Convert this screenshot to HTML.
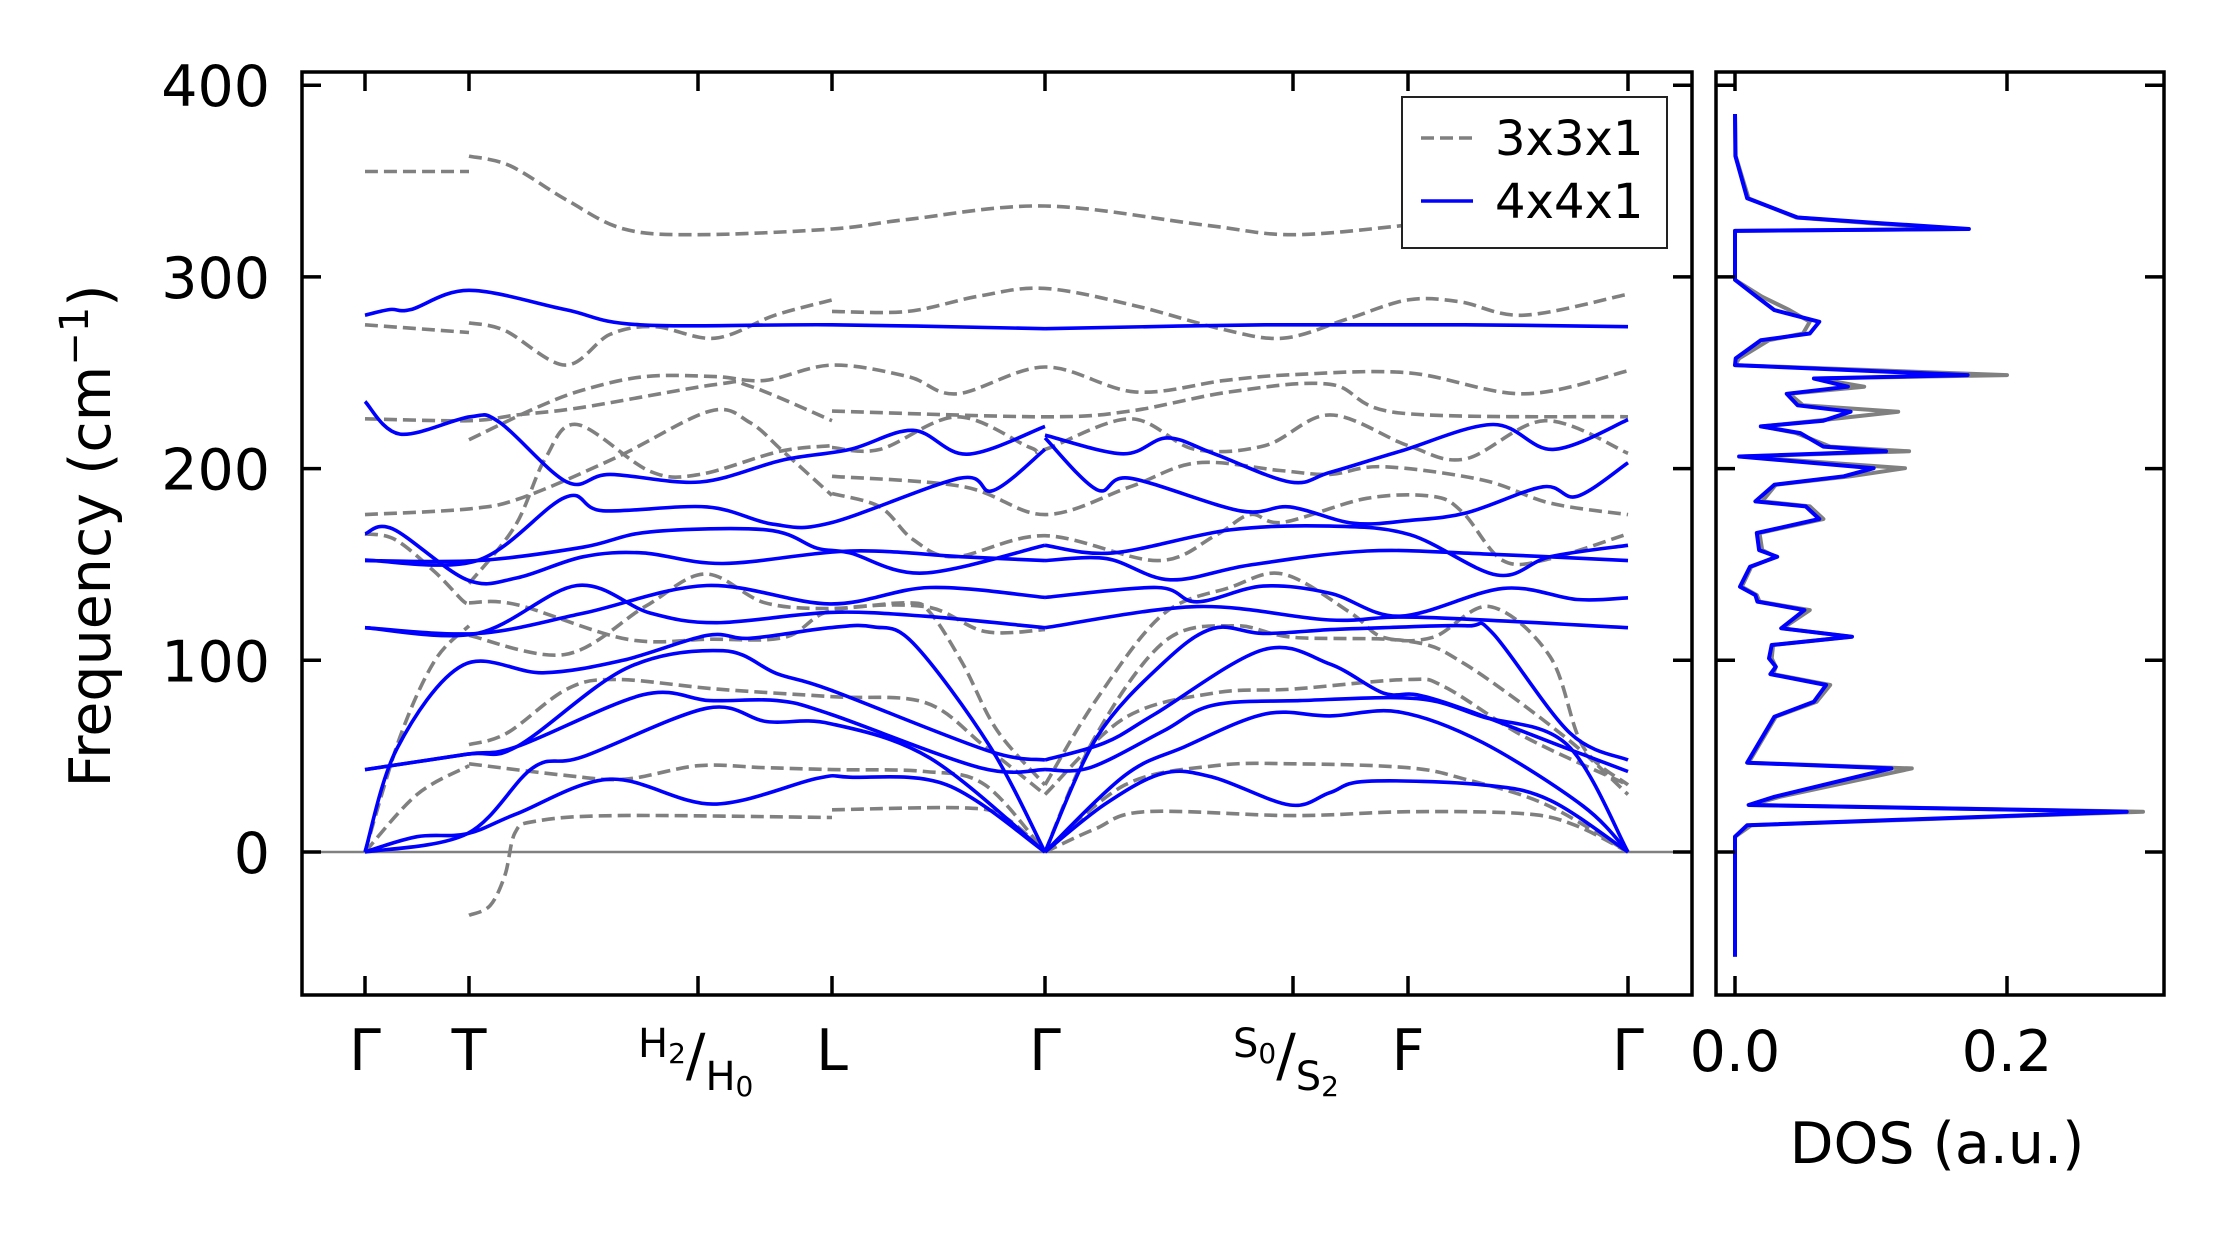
<!DOCTYPE html>
<html><head><meta charset="utf-8"><style>
html,body{margin:0;padding:0;background:#fff;}
svg{display:block;font-family:"DejaVu Sans","Liberation Sans",sans-serif;}
</style></head><body>
<svg id="chart" width="2222" height="1233" viewBox="0 0 2222 1233" xmlns="http://www.w3.org/2000/svg">
<rect width="2222" height="1233" fill="#fff"/>
<g id="bands"></g>
<g id="dos"></g>
<g id="axes"></g>
<g>
<rect x="1402" y="97" width="265" height="151" fill="#fff" stroke="#222" stroke-width="2"/>
<line x1="1421" y1="138" x2="1472" y2="138" stroke="#808080" stroke-width="3.6" stroke-dasharray="13 6"/>
<text x="1495" y="155" font-size="48">3x3x1</text>
<line x1="1421" y1="201" x2="1473" y2="201" stroke="#0000ff" stroke-width="3.6"/>
<text x="1495" y="218" font-size="48">4x4x1</text>
</g>
<text transform="translate(110,536) rotate(-90)" text-anchor="middle" font-size="57">Frequency (cm<tspan dy="-22" font-size="40">−1</tspan><tspan dy="22">)</tspan></text>
<text x="1937" y="1163" text-anchor="middle" font-size="57">DOS (a.u.)</text>
</svg>
<script>
// ---- data ----
const kTicks = [0,104,333,467,680,928,1043,1263];
const kLabels = ["Γ","T","H","L","Γ","S","F","Γ"];
const yTicks = [0,100,200,300,400];
const dosTicks = [0.0,0.2];
const dosTickLabels = ["0.0","0.2"];

const blue1=[[0,280],[25,283],[46,283],[104,293],[200,283],[275,275],[467,275],[680,273]];
const blue2=[[0,235],[35,218],[105,227],[135,224],[202,193],[245,197],[335,193],[418,204.5],[485,210],[548,220],[602,207.5],[680,222]];
const blue3=[[0,152.3],[112,152],[200,185],[238,178],[342,180],[408,171],[465,171.6],[595,195],[628,188.5],[680,210]];
const blue4=[[0,166],[28,168.5],[102,142],[152,143],[218,154],[278,156],[358,150.5],[485,157],[598,154],[680,152]];
const blue5=[[0,152],[112,152],[218,159],[285,167],[402,168],[452,158.5],[485,156],[558,145.5],[680,160]];
const blue6=[[0,117],[112,114],[212,139],[285,124.7],[352,119.6],[465,125],[560,123],[680,117]];
const blue7=[[0,117],[112,114],[218,124.5],[342,139],[465,129.4],[565,138],[680,132.8]];
const blue8=[[0,0],[32,54],[98,97.5],[178,93.5],[258,100],[342,113],[385,111.5],[465,117],[508,117.5],[548,109],[625,55],[680,0]];
const blue9=[[0,43],[102,51],[152,55],[262,96],[358,105],[412,93],[465,84.6],[622,53],[680,48]];
const blue10=[[0,43],[102,51],[152,55],[278,82],[345,79],[412,79],[465,72],[615,44],[680,43]];
const blue11=[[0,0],[102,9.5],[168,44],[218,49.7],[342,75],[402,68],[465,67],[565,49],[680,0]];
const blue12=[[0,0],[52,8],[102,9.5],[152,20],[245,38],[348,25],[452,38.4],[485,39],[582,35],[680,0]];
const blue13=[[680,273],[900,275],[1100,275],[1263,274]];
const blue14=[[680,217.5],[758,207.7],[802,216],[848,208],[925,193],[965,198],[1035,209],[1128,223],[1188,210],[1263,225.5]];
const blue15=[[680,216],[732,189],[765,195],[875,178],[925,180],[988,171.5],[1045,173],[1102,177],[1178,190.5],[1212,185.5],[1263,203]];
const blue16=[[680,160],[748,156],[865,168],[965,170],[1045,165.5],[1132,144.5],[1185,154],[1263,160]];
const blue17=[[680,152],[742,153],[805,142],[885,149.7],[1002,157],[1118,155.5],[1263,152]];
const blue18=[[680,132.8],[792,138],[832,130.5],[898,138.7],[965,135],[1035,123],[1138,137.5],[1212,131.7],[1263,132.6]];
const blue19=[[680,117],[832,128],[965,121],[1052,122.5],[1263,117]];
const blue20=[[680,0],[732,60],[798,98.5],[848,116.6],[898,114],[965,116],[1018,117],[1102,118],[1128,114],[1205,62],[1263,48]];
const blue21=[[680,48],[740,57],[790,72],[898,105.5],[965,98],[1018,83],[1052,82],[1102,74],[1202,54],[1263,42]];
const blue22=[[680,43],[725,44],[798,63],[848,76.6],[935,79],[1052,80],[1118,70.5],[1202,56],[1263,0]];
const blue23=[[680,0],[760,40],[820,55],[900,72],[965,71],[1035,73],[1118,57],[1218,24],[1263,0]];
const blue24=[[680,0],[740,25],[798,41],[848,39],[925,24.5],[965,31],[1002,36.9],[1118,35],[1185,27],[1263,0]];
const blueBands=[blue1,blue2,blue3,blue4,blue5,blue6,blue7,blue8,blue9,blue10,blue11,blue12,blue13,blue14,blue15,blue16,blue17,blue18,blue19,blue20,blue21,blue22,blue23,blue24];

const gray1=[[0,355],[104,355]];
const gray2=[[104,363],[145,358],[202,340],[259,325],[333,322],[467,325],[543,330],[680,337],[840,327],[928,322],[1043,327]];
const gray3=[[0,275],[104,271]];
const gray4=[[104,276],[140,272],[200,254],[245,270],[290,274],[350,268],[410,280],[467,288]];
const gray5=[[467,282],[543,282],[614,290],[680,294],[770,285],[855,273],[918,268],[982,278],[1043,288],[1095,287],[1159,280],[1263,291]];
const gray6=[[0,226],[104,225],[152,228],[218,232],[352,244],[385,243],[467,225]];
const gray7=[[104,215],[168,231],[218,241],[280,248],[350,248],[400,246],[467,254],[543,248],[592,239],[680,253],[770,240],[860,246],[928,249],[1043,250],[1159,239],[1263,251]];
const gray8=[[467,230],[678,227],[765,230],[865,240],[965,244],[1035,229],[1263,227]];
const gray9=[[0,176],[104,179],[158,185],[252,206],[345,230],[385,224],[418,209],[467,186]];
const gray10=[[467,187],[515,180],[548,163],[590,154],[680,165],[792,152],[850,165],[885,176],[918,172],[1002,184.5],[1068,185.5],[1098,177],[1138,152],[1185,153],[1263,166]];
const gray11=[[467,196],[598,190.6],[680,176],[765,190.5],[832,203],[915,199],[965,197],[1018,201],[1118,194],[1185,182],[1263,176]];
const gray12=[[104,140],[150,170],[180,205],[212,223],[285,198.6],[335,197],[415,209],[467,212]];
const gray13=[[467,211],[515,210],[592,227],[665,211],[680,210],[765,226],[830,210],[900,212],[965,228],[1043,212],[1100,205],[1180,225],[1263,208]];
const gray14=[[0,166],[30,163],[70,146],[98,131],[104,130]];
const gray15=[[104,130],[152,129],[262,111],[345,111],[420,112],[467,126],[560,128],[620,115],[680,116]];
const gray16=[[104,113],[200,103],[280,128],[340,145],[400,130],[467,127],[542,130],[565,125],[598,98],[632,63.5],[680,35]];
const gray17=[[680,35],[732,80],[798,124],[865,138],[918,145],[985,125],[1018,112],[1068,112],[1125,128],[1185,102],[1218,55],[1263,35]];
const gray18=[[0,0],[35,60],[70,100],[104,118]];
const gray19=[[0,0],[52,30],[104,45]];
const gray20=[[104,56],[142,62],[202,85],[252,90],[352,85],[468,81],[560,78],[620,55],[680,30]];
const gray21=[[104,46],[200,40],[260,38],[333,45],[400,44],[467,43],[560,42],[620,35],[680,0]];
const gray22=[[680,0],[760,35],[850,45],[928,46],[1043,44],[1100,38],[1180,25],[1263,0]];
const gray23=[[680,30],[760,70],[850,83],[928,85],[1043,90],[1080,86],[1160,60],[1263,35]];
const gray24=[[680,0],[730,60],[800,110],[870,118],[928,112],[1043,110],[1100,98],[1200,60],[1263,30]];
const gray25=[[104,-33],[125,-28],[140,-12],[150,10],[170,16],[250,19],[467,18]];
const gray26=[[467,22],[600,23],[640,18],[680,0]];
const gray27=[[680,0],[730,12],[780,21],[928,19],[1043,21],[1159,20],[1210,14],[1263,0]];
const grayBands=[gray1,gray2,gray3,gray4,gray5,gray6,gray7,gray8,gray9,gray10,gray11,gray12,gray13,gray14,gray15,gray16,gray17,gray18,gray19,gray20,gray21,gray22,gray23,gray24,gray25,gray26,gray27];

const dosFreq=[385,363,341,331,328,325,324,298.5,289.6,282.7,276.6,270.5,267,257.5,254,248.8,247,242.7,239,233,229.7,225,222,218.5,211.5,209,206.3,200.2,196,191.6,182.9,180.3,173.7,166.4,157.5,154,148.8,138.4,134,130.6,126.2,116.7,112.3,108,101,96.6,92.8,87.1,78.4,70.6,46.6,43.6,28.8,24.5,21,14,8,-54.6];
const dosBlue=[0,0.0003,0.009,0.046,0.107,0.172,0,0,0.016,0.029,0.062,0.055,0.019,0.0005,0,0.171,0.058,0.083,0.038,0.046,0.085,0.065,0.019,0.048,0.065,0.111,0.003,0.102,0.08,0.029,0.015,0.052,0.062,0.016,0.0177,0.031,0.011,0.0037,0.015,0.0165,0.051,0.034,0.086,0.027,0.025,0.03,0.026,0.067,0.058,0.029,0.009,0.115,0.029,0.01,0.288,0.009,0,0];
const dosGray=[0,0.0005,0.01,0.045,0.1,0.165,0,0,0.02,0.04,0.055,0.05,0.025,0.003,0,0.2,0.06,0.095,0.04,0.05,0.12,0.06,0.02,0.045,0.07,0.128,0.005,0.125,0.085,0.03,0.02,0.055,0.065,0.018,0.02,0.03,0.012,0.005,0.016,0.018,0.055,0.035,0.085,0.028,0.027,0.03,0.028,0.07,0.06,0.03,0.01,0.13,0.033,0.012,0.3,0.012,0,0];

// ---- scales ----
const PX0=302, PX1=1692, PY0=72, PY1=995, DX0=1716, DX1=2164;
function xk(k){return 365 + k*(1628-365)/1263;}
function yf(f){return 852 - f*1.917;}
function xd(v){return 1735 + v*1360;}
const NS="http://www.w3.org/2000/svg";
function mk(tag,attrs,parent){const e=document.createElementNS(NS,tag);for(const a in attrs)e.setAttribute(a,attrs[a]);parent.appendChild(e);return e;}
function smooth(pts){
  const p=pts.map(q=>[xk(q[0]),yf(q[1])]);
  let d="M"+p[0][0].toFixed(1)+","+p[0][1].toFixed(1);
  for(let i=0;i<p.length-1;i++){
    const p0=p[Math.max(0,i-1)],p1=p[i],p2=p[i+1],p3=p[Math.min(p.length-1,i+2)];
    const c1=[p1[0]+(p2[0]-p0[0])/6,p1[1]+(p2[1]-p0[1])/6];
    const c2=[p2[0]-(p3[0]-p1[0])/6,p2[1]-(p3[1]-p1[1])/6];
    d+=" C"+c1[0].toFixed(1)+","+c1[1].toFixed(1)+" "+c2[0].toFixed(1)+","+c2[1].toFixed(1)+" "+p2[0].toFixed(1)+","+p2[1].toFixed(1);
  }
  return d;
}
const bands=document.getElementById('bands');
const clip=mk('clipPath',{id:'pc'},bands);
mk('rect',{x:PX0,y:PY0,width:PX1-PX0,height:PY1-PY0},clip);
const zl=mk('line',{x1:PX0,x2:PX1,y1:yf(0),y2:yf(0),stroke:'#808080','stroke-width':2.5},bands);


grayBands.forEach((b,i)=>{
  const e=mk('path',{d:smooth(b),fill:'none',stroke:'#808080','stroke-width':3.6,'stroke-dasharray':'13 6','clip-path':'url(#pc)'},bands);
  
  
});
blueBands.forEach((b,i)=>{
  const e=mk('path',{d:smooth(b),fill:'none',stroke:'#0000ff','stroke-width':3.6,'clip-path':'url(#pc)'},bands);
  
  
});
const dos=document.getElementById('dos');
function dline(vals,color,name){
  const pts=dosFreq.map((f,i)=>xd(vals[i]).toFixed(1)+","+yf(f).toFixed(1)).join(" ");
  const e=mk('polyline',{points:pts,fill:'none',stroke:color,'stroke-width':4,'stroke-linejoin':'round'},dos);
  
  
}
dline(dosGray,'#808080','dos-3x3x1');
dline(dosBlue,'#0000ff','dos-4x4x1');

// ---- axes ----
const ax=document.getElementById('axes');
const sp1=mk('rect',{x:PX0,y:PY0,width:PX1-PX0,height:PY1-PY0,fill:'none',stroke:'#000','stroke-width':3.5},ax);


const sp2=mk('rect',{x:DX0,y:PY0,width:DX1-DX0,height:PY1-PY0,fill:'none',stroke:'#000','stroke-width':3.5},ax);


const TL=19;
yTicks.forEach(v=>{
  const y=yf(v);
  [[PX0,PX0+TL],[PX1,PX1-TL],[DX0,DX0+TL],[DX1,DX1-TL]].forEach(s=>{
    const t=mk('line',{x1:s[0],x2:s[1],y1:y,y2:y,stroke:'#000','stroke-width':3.5},ax);
    
    
  });
  const tx=mk('text',{x:270,y:y+21,'text-anchor':'end','font-size':57},ax);
  tx.textContent=String(v);
  
  
});
kTicks.forEach((k,i)=>{
  const x=xk(k);
  [[PY0,PY0+TL],[PY1,PY1-TL]].forEach(s=>{
    const t=mk('line',{x1:x,x2:x,y1:s[0],y2:s[1],stroke:'#000','stroke-width':3.5},ax);
    
    
  });
  const lab=kLabels[i];
  if(lab==='H'||lab==='S'){
    const g=mk('text',{x:x-60,y:1057,'font-size':40},ax);
    
    
    const a=lab==='H'?['2','0']:['0','2'];
    g.innerHTML=lab+'<tspan font-size="28" dy="6">'+a[0]+'</tspan><tspan font-size="58" dy="12">/</tspan><tspan font-size="40" dy="15">'+lab+'</tspan><tspan font-size="28" dy="6">'+a[1]+'</tspan>';
  } else {
    const t=mk('text',{x:x,y:1070,'text-anchor':'middle','font-size':57},ax);
    t.textContent=lab;
    
    
  }
});
dosTicks.forEach((v,i)=>{
  const x=xd(v);
  [[PY0,PY0+TL],[PY1,PY1-TL]].forEach(s=>{
    const t=mk('line',{x1:x,x2:x,y1:s[0],y2:s[1],stroke:'#000','stroke-width':3.5},ax);
    
    
  });
  const t=mk('text',{x:x,y:1071,'text-anchor':'middle','font-size':57},ax);
  t.textContent=dosTickLabels[i];
  
  
});
</script>
</body></html>
